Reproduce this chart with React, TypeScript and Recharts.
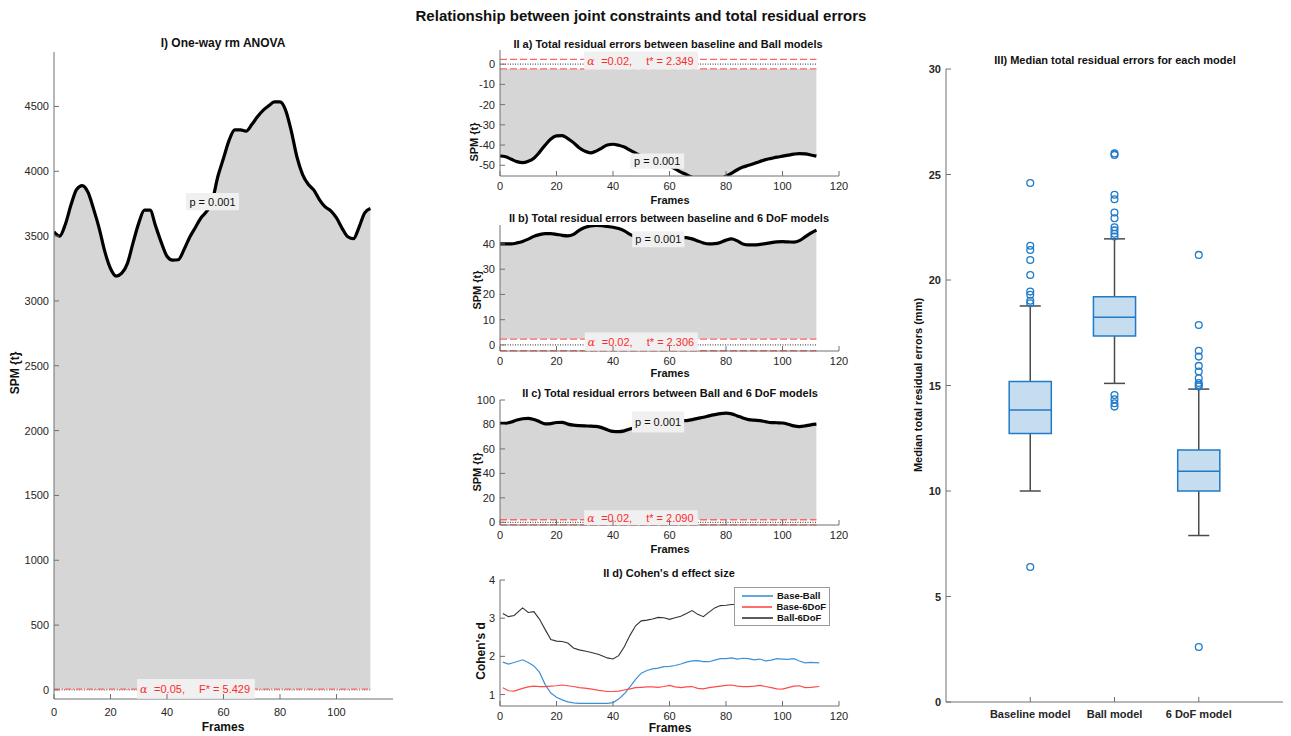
import React from "react";
import {
  ComposedChart,
  Area,
  Line,
  Scatter,
  XAxis,
  YAxis,
  ReferenceLine,
  ReferenceArea,
  Legend,
} from "recharts";

const FONT = "'Liberation Sans', Arial, Helvetica, sans-serif";
const AXIS = "#707070";
const INK = "#262626";
const FILL = "#d6d6d6";
const LABEL_BG = "#f0f0f0";
const RED = "#ff2a2a";
const DASH_RED = "#ff6464";
const BLUE = "#1f7bc9";
const BOX_FILL = "#c6dcef";
const WHISKER = "#4b4b4b";

// frames 0..112, every second frame
const FRAMES = [
  0, 2, 4, 6, 8, 10, 12, 14, 16, 18, 20, 22, 24, 26, 28, 30, 32, 34, 36, 38, 40, 42, 44, 46, 48, 50,
  52, 54, 56, 58, 60, 62, 64, 66, 68, 70, 72, 74, 76, 78, 80, 82, 84, 86, 88, 90, 92, 94, 96, 98, 100,
  102, 104, 106, 108, 110, 112,
];

// I) one-way rm ANOVA, SPM{F}
const SPM_F = [
  3533, 3500, 3590, 3740, 3860, 3890, 3840, 3710, 3560, 3380,
  3250, 3192, 3215, 3290, 3450, 3600, 3700, 3700, 3575, 3450,
  3345, 3315, 3318, 3395, 3490, 3565, 3640, 3690, 3770, 3960,
  4100, 4240, 4320, 4320, 4310, 4360, 4420, 4470, 4505, 4535,
  4535, 4470, 4310, 4110, 3975, 3900, 3855, 3780, 3725, 3695,
  3640, 3560, 3495, 3480, 3570, 3680, 3713,
];
const F_STAR = 5.429;

// II a) baseline vs Ball
const SPM_A = [
  -45.4, -45.8, -47, -48.2, -48.7, -48, -46.5, -43.5, -40, -37,
  -35.5, -35.3, -36.8, -38.8, -41.3, -43, -43.9, -43, -41.5, -40,
  -39.6, -40.1, -41, -42.5, -44, -45.5, -46.5, -47.3, -48, -49,
  -50.3, -51.8, -53.4, -54.6, -56, -57.5, -58.5, -59, -58.5, -57,
  -55.4, -53.9, -52.2, -50.9, -50, -49.1, -48.1, -47.2, -46.6, -46,
  -45.5, -45, -44.5, -44.2, -44.4, -44.9, -45.5,
];
const T_A = 2.349;

// II b) baseline vs 6 DoF
const SPM_B = [
  40, 40, 40, 40.4, 41, 41.9, 43, 43.7, 44.1, 44.1,
  43.8, 43.4, 43.2, 43.8, 45.4, 46.5, 47.1, 47.3, 47.2, 46.9,
  46.6, 46.1, 45.2, 43.8, 43, 42.8, 42.7, 42.6, 42.6, 42.6,
  42.6, 42.6, 42.6, 42.5, 42, 41.2, 40.4, 40, 40.1, 40.6,
  41.5, 42, 41.2, 40, 39.6, 39.6, 39.8, 40.1, 40.5, 40.8,
  40.9, 40.8, 40.7, 41.3, 42.8, 44.3, 45.5,
];
const T_B = 2.306;

// II c) Ball vs 6 DoF
const SPM_C = [
  81, 81, 82, 83.6, 84.7, 85, 84, 82.3, 80.5, 80.7,
  81.6, 81.7, 80.3, 79.4, 79, 78.8, 78.7, 78.4, 77.4, 75.6,
  74.3, 74.1, 74.8, 76.3, 77.5, 78.5, 79.5, 80.5, 81.5, 82,
  82.5, 83, 83.2, 83.2, 84, 85, 85.9, 87, 88, 88.9,
  89.2, 88.7, 87, 85.3, 84, 83.5, 83.2, 82.3, 81.5, 81.4,
  81.2, 80.2, 78.8, 78.3, 78.8, 79.7, 80.2,
];
const T_C = 2.09;

// II d) Cohen's d
const FRAMES_D = [
  1, 3, 5, 8, 10, 12, 14, 16, 18, 20, 22, 24, 26, 28, 30, 32, 35, 38, 40, 42, 44, 46, 48, 50, 52, 54,
  56, 58, 60, 62, 64, 66, 68, 70, 72, 74, 76, 78, 80, 82, 84, 86, 88, 90, 92, 94, 96, 98, 100, 102,
  104, 106, 108, 110, 113,
];
const BASE_BALL = [
  1.85, 1.8, 1.84, 1.91, 1.84, 1.75, 1.58, 1.26, 1.04, 0.93,
  0.86, 0.81, 0.78, 0.77, 0.77, 0.77, 0.77, 0.77, 0.79, 0.88,
  1.02, 1.2, 1.4, 1.56, 1.63, 1.67, 1.69, 1.73, 1.74, 1.76,
  1.8, 1.85, 1.88, 1.89, 1.86, 1.86, 1.9, 1.94, 1.94, 1.96,
  1.93, 1.95, 1.94, 1.91, 1.93, 1.88, 1.9, 1.94, 1.93, 1.92,
  1.94, 1.88, 1.83, 1.84, 1.83,
];
const BASE_6DOF = [
  1.18, 1.1, 1.09, 1.16, 1.2, 1.22, 1.21, 1.21, 1.22, 1.23,
  1.25, 1.23, 1.21, 1.18, 1.17, 1.15, 1.11, 1.08, 1.08, 1.09,
  1.12, 1.15, 1.18, 1.19, 1.2, 1.2, 1.19, 1.21, 1.24, 1.2,
  1.18, 1.2, 1.21, 1.16, 1.15, 1.18, 1.2, 1.22, 1.24, 1.25,
  1.22, 1.21, 1.21, 1.22, 1.24, 1.21, 1.18, 1.15, 1.14, 1.18,
  1.22, 1.23, 1.18, 1.19, 1.21,
];
const BALL_6DOF = [
  3.12, 3.04, 3.07, 3.27, 3.15, 3.17, 2.97, 2.7, 2.44, 2.4,
  2.39, 2.35, 2.22, 2.17, 2.14, 2.11, 2.05, 1.96, 1.93, 2.02,
  2.25, 2.55, 2.8, 2.93, 2.95, 2.98, 3.02, 3.01, 2.97, 3.01,
  3.05, 3.12, 3.2, 3.1, 3.04, 3.16, 3.27, 3.33, 3.34, 3.36,
  3.36, 3.37, 3.38, 3.39, 3.4, 3.39, 3.4, 3.41, 3.42, 3.41,
  3.42, 3.43, 3.42, 3.43, 3.44,
];
const SERIES_D = ["Base-Ball", "Base-6DoF", "Ball-6DoF"];

// III) box plot
const MODELS = ["Baseline model", "Ball model", "6 DoF model"];
const Q1 = [12.73, 17.35, 10.0];
const MEDIAN = [13.84, 18.23, 10.94];
const Q3 = [15.19, 19.21, 11.94];
const WHISK_LO = [10.0, 15.1, 7.89];
const WHISK_HI = [18.77, 21.95, 14.83];
const OUT_BASE = [24.6, 21.62, 21.42, 20.95, 20.24, 19.45, 19.3, 19.02, 18.9, 6.4];
const OUT_BALL = [26.0, 25.93, 24.04, 23.83, 23.2, 22.93, 22.5, 22.35, 22.19, 22.06, 14.55, 14.35, 14.16, 14.0];
const OUT_6DOF = [21.19, 17.87, 16.65, 16.37, 15.93, 15.66, 15.34, 15.12, 15.02, 14.95, 2.61];

const yTick = (bold = false) => (props: any) => {
  const { x, y, payload } = props;
  return (
    <g>
      <line x1={x} x2={x + 5} y1={y} y2={y} stroke={AXIS} />
      <text x={x - 5} y={y + 4} textAnchor="end" fontSize={11} fontWeight={bold ? 700 : 400} fill={INK} fontFamily={FONT}>
        {payload.value}
      </text>
    </g>
  );
};

const xTick = (dy: number, bold = false, fmt?: (v: number) => string) => (props: any) => {
  const { x, y, payload } = props;
  return (
    <g>
      <line x1={x} x2={x} y1={y} y2={y - 5} stroke={AXIS} />
      <text x={x} y={y + dy} textAnchor="middle" fontSize={11} fontWeight={bold ? 700 : 400} fill={INK} fontFamily={FONT}>
        {fmt ? fmt(payload.value) : payload.value}
      </text>
    </g>
  );
};

const viewBoxOf = (props: any) => props.viewBox ?? { x: props.x, y: props.y, width: props.width, height: props.height };

const pLabel = (props: any) => {
  const vb = viewBoxOf(props);
  return (
    <text x={vb.x + vb.width / 2} y={vb.y + vb.height / 2 + 4} textAnchor="middle" fontSize={11} fill="#111" fontFamily={FONT}>
      p = 0.001
    </text>
  );
};

const threshLabel = (alpha: string, stat: string) => (props: any) => {
  const vb = viewBoxOf(props);
  return (
    <text y={vb.y + vb.height / 2 + 4} fontSize={11} fill={RED} fontFamily={FONT}>
      <tspan x={vb.x + 3} fontFamily="'DejaVu Serif', serif" fontStyle="italic">
        α
      </tspan>
      <tspan x={vb.x + 17}>{alpha}</tspan>
      <tspan x={vb.x + 62}>{stat}</tspan>
    </text>
  );
};

type SpmProps = {
  left: number;
  top: number;
  width: number;
  height: number;
  margin: { top: number; right: number; bottom: number; left: number };
  yWidth: number;
  xHeight: number;
  values: number[];
  base: number;
  lines: { y: number; dash: string; color: string }[];
  yDomain: [number, number];
  yTicks: number[];
  xTicks: number[];
  xDy: number;
  pBox: [number, number, number, number];
  tBox: [number, number, number, number];
  alpha: string;
  stat: string;
};

function SpmPanel(p: SpmProps) {
  const data = FRAMES.map((f, i) => ({ f, v: p.values[i] }));
  const last = FRAMES[FRAMES.length - 1];
  return (
    <div style={{ position: "absolute", left: p.left, top: p.top }}>
      <ComposedChart width={p.width} height={p.height} margin={p.margin} data={data}>
        <XAxis
          type="number"
          dataKey="f"
          domain={[0, 120]}
          ticks={p.xTicks}
          interval={0}
          allowDataOverflow
          height={p.xHeight}
          stroke={AXIS}
          tickLine={false}
          tickSize={0}
          tickMargin={0}
          tick={xTick(p.xDy)}
        />
        <YAxis
          type="number"
          domain={p.yDomain}
          ticks={p.yTicks}
          interval={0}
          allowDataOverflow
          width={p.yWidth}
          stroke={AXIS}
          tickLine={false}
          tickSize={0}
          tickMargin={0}
          tick={yTick()}
        />
        <Area
          type="monotone"
          dataKey={(d: any) => [p.base, d.v]}
          fill={FILL}
          fillOpacity={1}
          stroke="none"
          isAnimationActive={false}
        />
        <Line type="monotone" dataKey="v" stroke="#000" strokeWidth={3.2} dot={false} isAnimationActive={false} />
        {p.lines.map((l, i) => (
          <ReferenceLine
            key={i}
            segment={[
              { x: 0, y: l.y },
              { x: last, y: l.y },
            ]}
            stroke={l.color}
            strokeWidth={1.3}
            strokeDasharray={l.dash}
            zIndex={450}
          />
        ))}
        <ReferenceArea
          x1={p.pBox[0]}
          x2={p.pBox[1]}
          y1={p.pBox[2]}
          y2={p.pBox[3]}
          fill={LABEL_BG}
          fillOpacity={1}
          stroke="none"
          zIndex={600}
          label={pLabel}
        />
        <ReferenceArea
          x1={p.tBox[0]}
          x2={p.tBox[1]}
          y1={p.tBox[2]}
          y2={p.tBox[3]}
          fill={LABEL_BG}
          fillOpacity={1}
          stroke="none"
          zIndex={600}
          label={threshLabel(p.alpha, p.stat)}
        />
      </ComposedChart>
    </div>
  );
}

const twoTailed = (t: number) => [
  { y: 0, dash: "1 1.5", color: "#555" },
  { y: t, dash: "7 3", color: DASH_RED },
  { y: -t, dash: "7 3", color: DASH_RED },
];

const Txt = (props: { x: number; y: number; size: number; bold?: boolean; rotate?: boolean; children: React.ReactNode }) => (
  <div
    style={{
      position: "absolute",
      left: props.x,
      top: props.y,
      transform: `translate(-50%, -50%)${props.rotate ? " rotate(-90deg)" : ""}`,
      fontSize: props.size,
      fontWeight: props.bold ? 700 : 400,
      fontFamily: FONT,
      whiteSpace: "nowrap",
      lineHeight: 1,
      color: "#111",
    }}
  >
    {props.children}
  </div>
);

const legendContent = (props: any) => {
  const items = [...(props.payload ?? [])].sort(
    (a: any, b: any) => SERIES_D.indexOf(a.value) - SERIES_D.indexOf(b.value)
  );
  return (
    <div
      style={{
        boxSizing: "border-box",
        border: "1px solid #9a9a9a",
        background: "#fff",
        padding: "2px 3px 2px 7px",
        width: 96,
      }}
    >
      {items.map((e: any) => (
        <div key={e.value} style={{ display: "flex", alignItems: "center", height: 11, whiteSpace: "nowrap" }}>
          <span style={{ display: "inline-block", width: 31, borderTop: `2px solid ${e.color}`, marginRight: 4, opacity: 0.8 }} />
          <span style={{ fontSize: 9.5, fontWeight: 700, fontFamily: FONT, color: "#111", lineHeight: 1 }}>{e.value}</span>
        </div>
      ))}
    </div>
  );
};

function CohenPanel() {
  const data = FRAMES_D.map((f, i) => ({ f, a: BASE_BALL[i], b: BASE_6DOF[i], c: BALL_6DOF[i] }));
  return (
    <div style={{ position: "absolute", left: 440, top: 570 }}>
      <ComposedChart width={410} height={166} margin={{ top: 10, right: 11, bottom: 0, left: 0 }} data={data}>
        <XAxis
          type="number"
          dataKey="f"
          domain={[0, 120]}
          ticks={[0, 20, 40, 60, 80, 100, 120]}
          interval={0}
          height={30}
          stroke={AXIS}
          tickLine={false}
          tickSize={0}
          tickMargin={0}
          tick={xTick(14)}
        />
        <XAxis
          xAxisId="top"
          orientation="top"
          type="number"
          domain={[0, 120]}
          ticks={[0, 20, 40, 60, 80, 100, 120]}
          height={0}
          stroke={AXIS}
          tickLine={false}
          tickSize={0}
          tickMargin={0}
          tick={(props: any) => <line x1={props.x} x2={props.x} y1={props.y} y2={props.y + 5} stroke={AXIS} />}
        />
        <YAxis
          type="number"
          domain={[0.7, 4]}
          ticks={[1, 2, 3, 4]}
          interval={0}
          allowDataOverflow
          width={60}
          stroke={AXIS}
          tickLine={false}
          tickSize={0}
          tickMargin={0}
          tick={yTick()}
        />
        <YAxis
          yAxisId="right"
          orientation="right"
          type="number"
          domain={[0.7, 4]}
          ticks={[1, 2, 3, 4]}
          width={0}
          stroke={AXIS}
          tickLine={false}
          tickSize={0}
          tickMargin={0}
          tick={(props: any) => <line x1={props.x} x2={props.x - 5} y1={props.y} y2={props.y} stroke={AXIS} />}
        />
        <Line name={SERIES_D[0]} type="linear" dataKey="a" stroke="#3d91d8" strokeWidth={1.2} dot={false} isAnimationActive={false} />
        <Line name={SERIES_D[1]} type="linear" dataKey="b" stroke="#ff4a4a" strokeWidth={1.2} dot={false} isAnimationActive={false} />
        <Line name={SERIES_D[2]} type="linear" dataKey="c" stroke="#333" strokeWidth={1.1} dot={false} isAnimationActive={false} />
        <Legend
          layout="horizontal"
          align="center"
          verticalAlign="middle"
          wrapperStyle={{ left: 294, top: 17, width: 96 }}
          content={legendContent}
        />
      </ComposedChart>
    </div>
  );
}

function BoxPanel() {
  const outliers = [OUT_BASE, OUT_BALL, OUT_6DOF].flatMap((arr, i) => arr.map((v) => ({ x: i + 1, y: v })));
  return (
    <div style={{ position: "absolute", left: 890, top: 30 }}>
      <ComposedChart width={400} height={706} margin={{ top: 39, right: 7, bottom: 0, left: 0 }}>
        <XAxis
          type="number"
          dataKey="x"
          domain={[0, 4]}
          ticks={[1, 2, 3]}
          interval={0}
          height={34}
          stroke={AXIS}
          tickLine={false}
          tickSize={0}
          tickMargin={0}
          tick={xTick(16, true, (v) => MODELS[v - 1])}
        />
        <YAxis
          type="number"
          dataKey="y"
          domain={[0, 30]}
          ticks={[0, 5, 10, 15, 20, 25, 30]}
          interval={0}
          width={56}
          stroke={AXIS}
          tickLine={false}
          tickSize={0}
          tickMargin={0}
          tick={yTick(true)}
        />
        {MODELS.map((_, i) => (
          <ReferenceLine
            key={`wl${i}`}
            segment={[
              { x: i + 1, y: WHISK_LO[i] },
              { x: i + 1, y: Q1[i] },
            ]}
            stroke={WHISKER}
            strokeWidth={1.5}
          />
        ))}
        {MODELS.map((_, i) => (
          <ReferenceLine
            key={`wh${i}`}
            segment={[
              { x: i + 1, y: Q3[i] },
              { x: i + 1, y: WHISK_HI[i] },
            ]}
            stroke={WHISKER}
            strokeWidth={1.5}
          />
        ))}
        {MODELS.map((_, i) => (
          <ReferenceLine
            key={`cl${i}`}
            segment={[
              { x: i + 0.875, y: WHISK_LO[i] },
              { x: i + 1.125, y: WHISK_LO[i] },
            ]}
            stroke={WHISKER}
            strokeWidth={1.5}
          />
        ))}
        {MODELS.map((_, i) => (
          <ReferenceLine
            key={`ch${i}`}
            segment={[
              { x: i + 0.875, y: WHISK_HI[i] },
              { x: i + 1.125, y: WHISK_HI[i] },
            ]}
            stroke={WHISKER}
            strokeWidth={1.5}
          />
        ))}
        {MODELS.map((_, i) => (
          <ReferenceArea
            key={`b${i}`}
            x1={i + 0.75}
            x2={i + 1.25}
            y1={Q1[i]}
            y2={Q3[i]}
            fill={BOX_FILL}
            fillOpacity={1}
            stroke={BLUE}
            strokeWidth={1.5}
            zIndex={450}
          />
        ))}
        {MODELS.map((_, i) => (
          <ReferenceLine
            key={`m${i}`}
            segment={[
              { x: i + 0.75, y: MEDIAN[i] },
              { x: i + 1.25, y: MEDIAN[i] },
            ]}
            stroke={BLUE}
            strokeWidth={1.5}
            zIndex={460}
          />
        ))}
        <Scatter
          data={outliers}
          dataKey="y"
          isAnimationActive={false}
          shape={(p: any) => <circle cx={p.cx} cy={p.cy} r={3.4} fill="none" stroke={BLUE} strokeWidth={1.3} />}
        />
      </ComposedChart>
    </div>
  );
}

export default function App() {
  const xt = [0, 20, 40, 60, 80, 100, 120];
  return (
    <div style={{ position: "absolute", left: 0, top: 0, width: 1291, height: 736, background: "#fff", overflow: "hidden" }}>
      <SpmPanel
        left={0}
        top={30}
        width={400}
        height={706}
        margin={{ top: 22, right: 7, bottom: 0, left: 8 }}
        yWidth={46}
        xHeight={37}
        values={SPM_F}
        base={F_STAR}
        lines={[
          { y: 0, dash: "1 1.5", color: "#777" },
          { y: F_STAR, dash: "6 2 1 2", color: DASH_RED },
        ]}
        yDomain={[-70, 4920]}
        yTicks={[0, 500, 1000, 1500, 2000, 2500, 3000, 3500, 4000, 4500]}
        xTicks={[0, 20, 40, 60, 80, 100]}
        xDy={17}
        pBox={[46.7, 65.5, 3700, 3832]}
        tBox={[29.4, 71.1, -68, 85]}
        alpha="=0.05,"
        stat="F* = 5.429"
      />
      <SpmPanel
        left={440}
        top={40}
        width={410}
        height={170}
        margin={{ top: 10, right: 11, bottom: 0, left: 0 }}
        yWidth={60}
        xHeight={34}
        values={SPM_A}
        base={-T_A}
        lines={twoTailed(T_A)}
        yDomain={[-55.3, 7]}
        yTicks={[-50, -40, -30, -20, -10, 0]}
        xTicks={xt}
        xDy={14}
        pBox={[46.1, 65.2, -51.7, -44.2]}
        tBox={[29.8, 70.1, -2.8, 6.3]}
        alpha="=0.02,"
        stat={`t* = ${T_A}`}
      />
      <SpmPanel
        left={440}
        top={215}
        width={410}
        height={170}
        margin={{ top: 10, right: 11, bottom: 0, left: 0 }}
        yWidth={60}
        xHeight={34}
        values={SPM_B}
        base={T_B}
        lines={twoTailed(T_B)}
        yDomain={[-2.4, 47.5]}
        yTicks={[0, 10, 20, 30, 40]}
        xTicks={xt}
        xDy={14}
        pBox={[46.8, 65.3, 38.7, 44.9]}
        tBox={[30, 70, -2.3, 4.9]}
        alpha="=0.02,"
        stat={`t* = ${T_B}`}
      />
      <SpmPanel
        left={440}
        top={390}
        width={410}
        height={169}
        margin={{ top: 10, right: 11, bottom: 0, left: 0 }}
        yWidth={60}
        xHeight={34}
        values={SPM_C}
        base={T_C}
        lines={twoTailed(T_C)}
        yDomain={[-2.2, 100]}
        yTicks={[0, 20, 40, 60, 80, 100]}
        xTicks={xt}
        xDy={14}
        pBox={[46.7, 65.2, 73.4, 90.5]}
        tBox={[29.8, 70, -2.1, 9.8]}
        alpha="=0.02,"
        stat={`t* = ${T_C.toFixed(3)}`}
      />
      <CohenPanel />
      <BoxPanel />

      <Txt x={641} y={15} size={15} bold>
        Relationship between joint constraints and total residual errors
      </Txt>
      <Txt x={223} y={43} size={12} bold>
        I) One-way rm ANOVA
      </Txt>
      <Txt x={668} y={44} size={11} bold>
        II a) Total residual errors between baseline and Ball models
      </Txt>
      <Txt x={669} y={218} size={11} bold>
        II b) Total residual errors between baseline and 6 DoF models
      </Txt>
      <Txt x={670} y={393} size={11} bold>
        II c) Total residual errors between Ball and 6 DoF models
      </Txt>
      <Txt x={669} y={573} size={11} bold>
        II d) Cohen's d effect size
      </Txt>
      <Txt x={1115} y={60} size={11} bold>
        III) Median total residual errors for each model
      </Txt>

      <Txt x={15} y={373} size={12} bold rotate>
        SPM {"{t}"}
      </Txt>
      <Txt x={474} y={142} size={11} bold rotate>
        SPM {"{t}"}
      </Txt>
      <Txt x={477} y={290} size={11} bold rotate>
        SPM {"{t}"}
      </Txt>
      <Txt x={477} y={472} size={11} bold rotate>
        SPM {"{t}"}
      </Txt>
      <Txt x={481} y={651} size={12} bold rotate>
        Cohen's d
      </Txt>
      <Txt x={918} y={385} size={11} bold rotate>
        Median total residual errors (mm)
      </Txt>

      <Txt x={223} y={727} size={12} bold>
        Frames
      </Txt>
      <Txt x={670} y={200} size={11} bold>
        Frames
      </Txt>
      <Txt x={670} y={373} size={11} bold>
        Frames
      </Txt>
      <Txt x={670} y={549} size={11} bold>
        Frames
      </Txt>
      <Txt x={670} y={728} size={12} bold>
        Frames
      </Txt>
    </div>
  );
}
